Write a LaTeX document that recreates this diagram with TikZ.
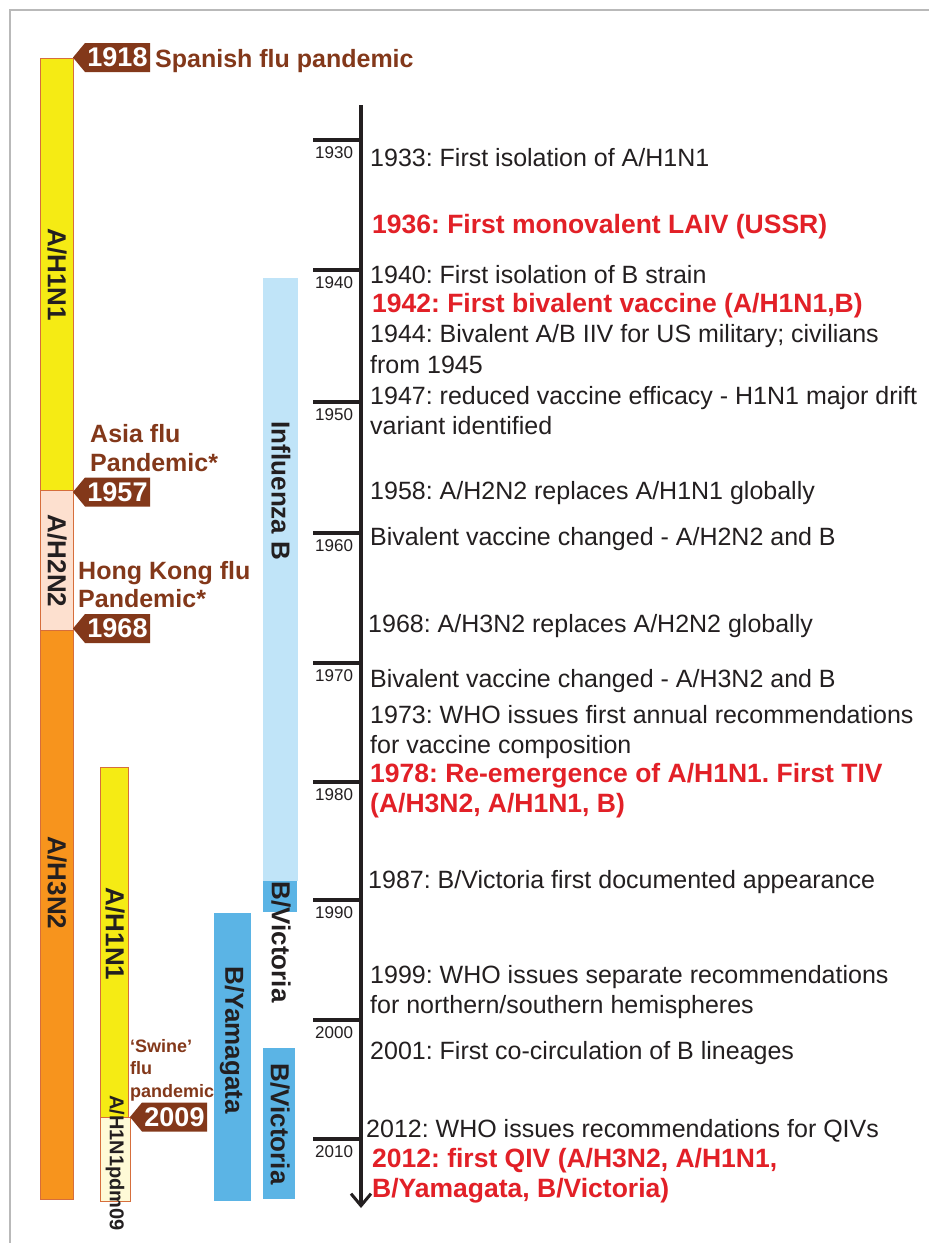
\documentclass[tikz,border=0pt]{standalone}
\usepackage{fontspec}
\setmainfont{Liberation Sans}
\usetikzlibrary{arrows.meta}
\frenchspacing
\definecolor{flubrown}{RGB}{131,56,26}
\definecolor{flured}{RGB}{226,32,39}
\definecolor{fluink}{RGB}{35,31,32}
\definecolor{fluyellow}{RGB}{245,235,20}
\definecolor{fluorange}{RGB}{247,148,29}
\definecolor{flupeach}{RGB}{253,224,207}
\definecolor{flucream}{RGB}{254,250,215}
\definecolor{flulightblue}{RGB}{192,228,248}
\definecolor{flublue}{RGB}{91,180,229}
\definecolor{fluedge}{RGB}{214,110,60}
\definecolor{framegray}{RGB}{185,185,185}
\newcommand{\flutag}[4]{%
  \fill[flubrown] (#2,#3) -- (#2+12,#3-14.5) -- (#2+77,#3-14.5) -- (#2+77,#3+14.5) -- (#2+12,#3+14.5) -- cycle;
  \node[tagtext] (#1) at (#2+44.5,#3) {#4};}
\begin{document}
\begin{tikzpicture}[x=1pt,y=-1pt,
  evt/.style={anchor=base west, inner sep=0pt, text=fluink, font=\fontsize{25}{30.5}\selectfont},
  evtred/.style={evt, text=flured, font=\bfseries\fontsize{26.5}{30}\selectfont},
  pand/.style={anchor=base west, inner sep=0pt, text=flubrown, font=\bfseries\fontsize{25}{29}\selectfont},
  tagtext/.style={inner sep=0pt, text=white, font=\bfseries\fontsize{27}{27}\selectfont},
  barlab/.style={inner sep=0pt, rotate=-90, text=fluink, font=\bfseries\fontsize{26}{26}\selectfont},
  bar/.style={draw=fluedge, line width=0.9pt},
  yearlab/.style={anchor=base west, inner sep=0pt, text=fluink, font=\fontsize{17}{17}\selectfont},
  tick/.style={line width=3.5pt, draw=fluink}
]
\useasboundingbox (0,0) rectangle (929,1243);
\fill[white] (0,0) rectangle (929,1243);
% frame
\draw[framegray, line width=2pt] (10,1243) -- (10,10) -- (929,10);

% subtype bars
\path[bar, fill=fluyellow] (40,58) rectangle (73,490);
\path[bar, fill=flupeach] (40,490) rectangle (73,630);
\path[bar, fill=fluorange] (40,630) rectangle (73,1199);
\path[bar, fill=fluyellow] (100,767) rectangle (128,1117);
\path[bar, fill=flucream] (100,1117) rectangle (130,1201);
\fill[flulightblue] (263,278) rectangle (298,881);
\fill[flublue] (263,881) rectangle (297,912);
\fill[flublue] (214,913) rectangle (251,1201);
\fill[flublue] (263,1048) rectangle (295,1199);

\node[barlab] (h1n1a) at (57,275) {A/H1N1};
\node[barlab] (h2n2) at (57,561) {A/H2N2};
\node[barlab] (h3n2) at (57,883) {A/H3N2};
\node[barlab] (h1n1b) at (115,934) {A/H1N1};
\node[barlab, font=\bfseries\fontsize{20}{20}\selectfont] (pdm) at (115,1163) {A/H1N1pdm09};
\node[barlab] (infb) at (281,491) {Influenza B};
\node[barlab] (bvic1) at (281,942) {B/Victoria};
\node[barlab] (byam) at (232,1040) {B/Yamagata};
\node[barlab] (bvic2) at (280,1124) {B/Victoria};

% pandemic tags
\flutag{t1918}{73}{57.5}{1918}
\flutag{t1957}{73}{492}{1957}
\flutag{t1968}{73}{628.5}{1968}
\flutag{t2009}{130}{1117}{2009}
\node[pand] (spanish) at (155,67) {Spanish flu pandemic};
\node[pand] (asiaa) at (90,442) {Asia flu};
\node[pand] (asiab) at (90,471) {Pandemic*};
\node[pand] (hka) at (78,579) {Hong Kong flu};
\node[pand] (hkb) at (78,607) {Pandemic*};
\node[pand, font=\bfseries\fontsize{18}{22.5}\selectfont] (swinea) at (130,1052) {‘Swine’};
\node[pand, font=\bfseries\fontsize{18}{22.5}\selectfont] (swineb) at (130,1074) {flu};
\node[pand, font=\bfseries\fontsize{18}{22.5}\selectfont] (swinec) at (130,1097) {pandemic};

% time axis
\coordinate (axtop) at (361,105);
\coordinate (axbot) at (361,1208);
\draw[line width=3.5pt, draw=fluink, -{Straight Barb[length=12pt,width=20pt,line width=3pt]}] (axtop) -- (axbot);
\foreach \yr/\yy in {1930/140,1940/270,1950/402,1960/533,1970/663,1980/782,1990/900,2000/1020,2010/1139}{
  \draw[tick] (313,\yy) -- (361,\yy);
  \node[yearlab] (yr\yr) at (315,\yy+18) {\yr};
}

% events
\node[evt] (e1933) at (370,166) {1933: First isolation of A/H1N1};
\node[evtred] (e1936) at (372,233) {1936: First monovalent LAIV (USSR)};
\node[evt] (e1940) at (370,283) {1940: First isolation of B strain};
\node[evtred] (e1942) at (372,312) {1942: First bivalent vaccine (A/H1N1,B)};
\node[evt] (e1944a) at (370,342) {1944: Bivalent A/B IIV for US military; civilians};
\node[evt] (e1944b) at (370,373) {from 1945};
\node[evt] (e1947a) at (370,404) {1947: reduced vaccine efficacy - H1N1 major drift};
\node[evt] (e1947b) at (370,434) {variant identified};
\node[evt] (e1958) at (370,499) {1958: A/H2N2 replaces A/H1N1 globally};
\node[evt] (e1960) at (370,545) {Bivalent vaccine changed - A/H2N2 and B};
\node[evt] (e1968) at (368,632) {1968: A/H3N2 replaces A/H2N2 globally};
\node[evt] (e1970) at (370,687) {Bivalent vaccine changed - A/H3N2 and B};
\node[evt] (e1973a) at (370,723) {1973: WHO issues first annual recommendations};
\node[evt] (e1973b) at (370,753) {for vaccine composition};
\node[evtred] (e1978a) at (370,782) {1978: Re-emergence of A/H1N1. First TIV};
\node[evtred] (e1978b) at (370,812) {(A/H3N2, A/H1N1, B)};
\node[evt] (e1987) at (368,888) {1987: B/Victoria first documented appearance};
\node[evt] (e1999a) at (370,983) {1999: WHO issues separate recommendations};
\node[evt] (e1999b) at (370,1013) {for northern/southern hemispheres};
\node[evt] (e2001) at (370,1059) {2001: First co-circulation of B lineages};
\node[evt] (e2012a) at (366,1137) {2012: WHO issues recommendations for QIVs};
\node[evtred] (e2012b) at (372,1167) {2012: first QIV (A/H3N2, A/H1N1,};
\node[evtred] (e2012c) at (372,1197) {B/Yamagata, B/Victoria)};
\end{tikzpicture}
\end{document}
